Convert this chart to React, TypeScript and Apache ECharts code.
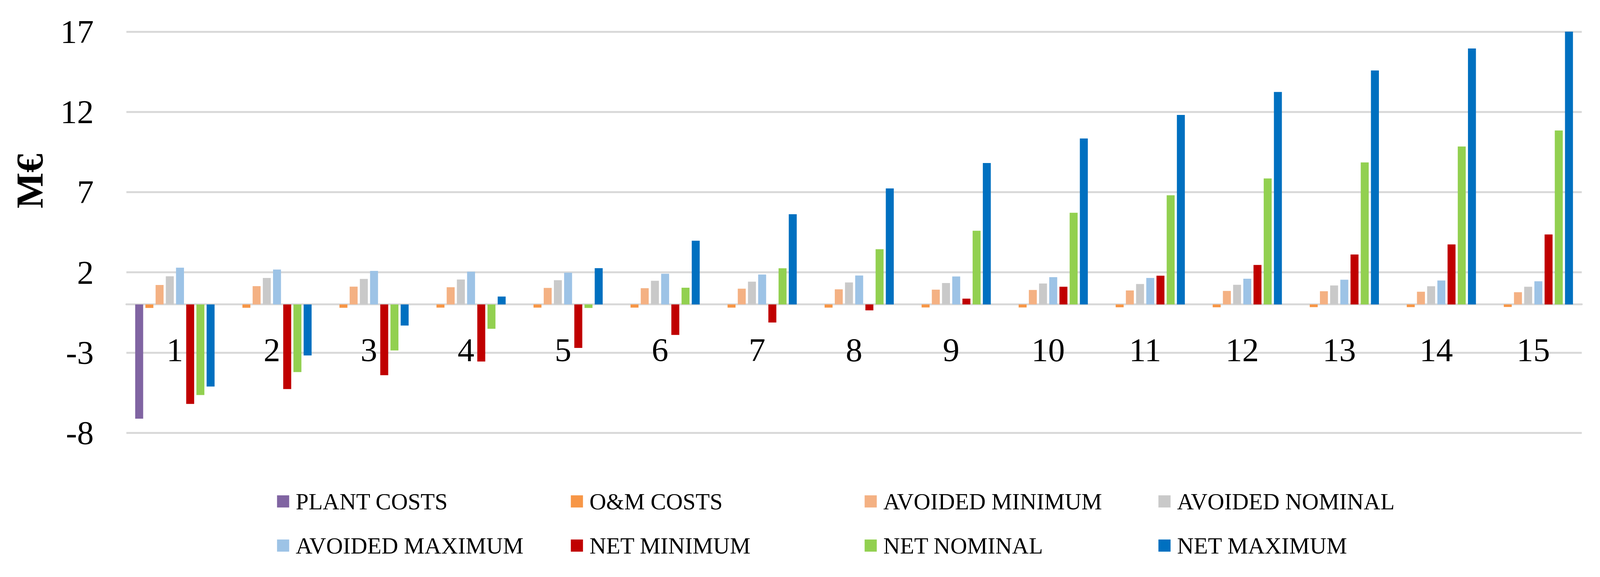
import React, { useEffect, useRef } from "react";
import * as echarts from "echarts";

const categories = ["1", "2", "3", "4", "5", "6", "7", "8", "9", "10", "11", "12", "13", "14", "15"];

const plantCosts = [-7.12, 0, 0, 0, 0, 0, 0, 0, 0, 0, 0, 0, 0, 0, 0];
const omCosts = [-0.22, -0.21, -0.21, -0.2, -0.2, -0.2, -0.2, -0.2, -0.19, -0.19, -0.18, -0.18, -0.17, -0.17, -0.16];
const avoidedMin = [1.21, 1.14, 1.11, 1.07, 1.03, 1.01, 0.98, 0.94, 0.92, 0.9, 0.87, 0.84, 0.82, 0.79, 0.76];
const avoidedNom = [1.75, 1.65, 1.59, 1.55, 1.51, 1.47, 1.42, 1.37, 1.33, 1.3, 1.27, 1.22, 1.18, 1.13, 1.1];
const avoidedMax = [2.29, 2.17, 2.09, 2.04, 1.98, 1.91, 1.86, 1.8, 1.74, 1.7, 1.65, 1.6, 1.54, 1.49, 1.44];
const netMin = [-6.2, -5.28, -4.41, -3.56, -2.71, -1.9, -1.13, -0.37, 0.36, 1.1, 1.79, 2.46, 3.11, 3.74, 4.36];
const netNom = [-5.65, -4.22, -2.87, -1.52, -0.22, 1.04, 2.25, 3.44, 4.59, 5.71, 6.8, 7.85, 8.85, 9.84, 10.84];
const netMax = [-5.12, -3.18, -1.32, 0.49, 2.26, 3.97, 5.62, 7.23, 8.81, 10.34, 11.81, 13.24, 14.58, 15.95, 17.25];

const seriesNames = [
  "PLANT COSTS",
  "O&M COSTS",
  "AVOIDED MINIMUM",
  "AVOIDED NOMINAL",
  "AVOIDED MAXIMUM",
  "NET MINIMUM",
  "NET NOMINAL",
  "NET MAXIMUM",
];
const seriesColors = ["#8064A2", "#F79646", "#F4B183", "#C9C9C9", "#9DC3E6", "#C00000", "#92D050", "#0070C0"];
const seriesData = [plantCosts, omCosts, avoidedMin, avoidedNom, avoidedMax, netMin, netNom, netMax];

const yMin = -8;
const yMax = 17;
const yTickLabels = ["-8", "-3", "2", "7", "12", "17"];
const yAxisTitle = "M€";

export default function App() {
  const ref = useRef<HTMLDivElement>(null);

  useEffect(() => {
    const el = ref.current;
    if (!el) return;
    const W = el.clientWidth || 4216;
    const H = el.clientHeight || 1476;
    const sx = W / 4216;
    const sy = H / 1476;
    const s = Math.min(sx, sy);
    const chart = echarts.init(el, null, { renderer: "svg", width: W, height: H });
    const font = "Liberation Serif";
    const gridColor = "#D9D9D9";

    const gridLeft = 333 * sx;
    const gridRight = 48 * sx;
    const gridTop = 81 * sy;
    const gridBottom = 369 * sy;
    const gridHeight = H - gridTop - gridBottom;
    // distance of the value-0 line above the grid bottom, from the value scale
    const zeroOffset = (gridHeight * (0 - yMin)) / (yMax - yMin);

    const legendCommon = {
      left: 730 * sx,
      padding: 0,
      itemWidth: 32 * s,
      itemHeight: 32 * s,
      itemGap: 37 * sx,
      icon: "rect",
      selectedMode: false,
      textStyle: {
        fontFamily: font,
        fontSize: 61 * s,
        color: "#000",
        width: 688 * sx,
        lineHeight: 61 * s,
        padding: [0, 0, 0, 12 * sx],
      },
    };

    chart.setOption({
      animation: false,
      backgroundColor: "#ffffff",
      textStyle: { fontFamily: font },
      grid: { left: gridLeft, right: gridRight, top: gridTop, bottom: gridBottom, containLabel: false },
      xAxis: {
        type: "category",
        data: categories,
        position: "bottom",
        offset: -zeroOffset,
        axisLine: {
          onZero: false,
          lineStyle: { color: gridColor, width: 5 * s },
        },
        axisTick: { show: false },
        splitLine: { show: false },
        axisLabel: { margin: 74 * sy, fontSize: 88 * s, color: "#000", fontFamily: font },
      },
      yAxis: [
        {
          type: "value",
          min: yMin,
          max: yMax,
          axisLine: { show: false },
          axisTick: { show: false },
          axisLabel: { show: false },
          splitLine: { show: false },
        },
        {
          type: "value",
          min: 0,
          max: yMax - yMin,
          interval: 5,
          position: "left",
          axisLine: { show: false },
          axisTick: { show: false },
          axisLabel: {
            formatter: (v: number) => yTickLabels[Math.round(v / 5)],
            fontSize: 88 * s,
            color: "#000",
            margin: 86 * sx,
            fontFamily: font,
          },
          splitLine: { show: true, lineStyle: { color: gridColor, width: 5 * s } },
        },
      ],
      legend: [
        { ...legendCommon, top: 1253 * sy, data: seriesNames.slice(0, 4) },
        { ...legendCommon, top: 1366 * sy, data: seriesNames.slice(4, 8) },
      ],
      graphic: [
        {
          type: "text",
          x: 78 * sx,
          y: 463 * sy,
          rotation: Math.PI / 2,
          style: {
            text: yAxisTitle,
            font: `bold ${100 * s}px "${font}"`,
            fill: "#000",
            align: "center",
            verticalAlign: "middle",
          },
        },
      ],
      series: seriesNames.map((name, i) => ({
        type: "bar",
        name,
        data: seriesData[i],
        yAxisIndex: 0,
        barWidth: 21 * sx,
        barGap: "28%",
        itemStyle: { color: seriesColors[i] },
      })),
    });

    return () => chart.dispose();
  }, []);

  return (
    <div
      ref={ref}
      style={{ position: "fixed", left: 0, top: 0, width: "100vw", height: "100vh", background: "#fff" }}
    />
  );
}
